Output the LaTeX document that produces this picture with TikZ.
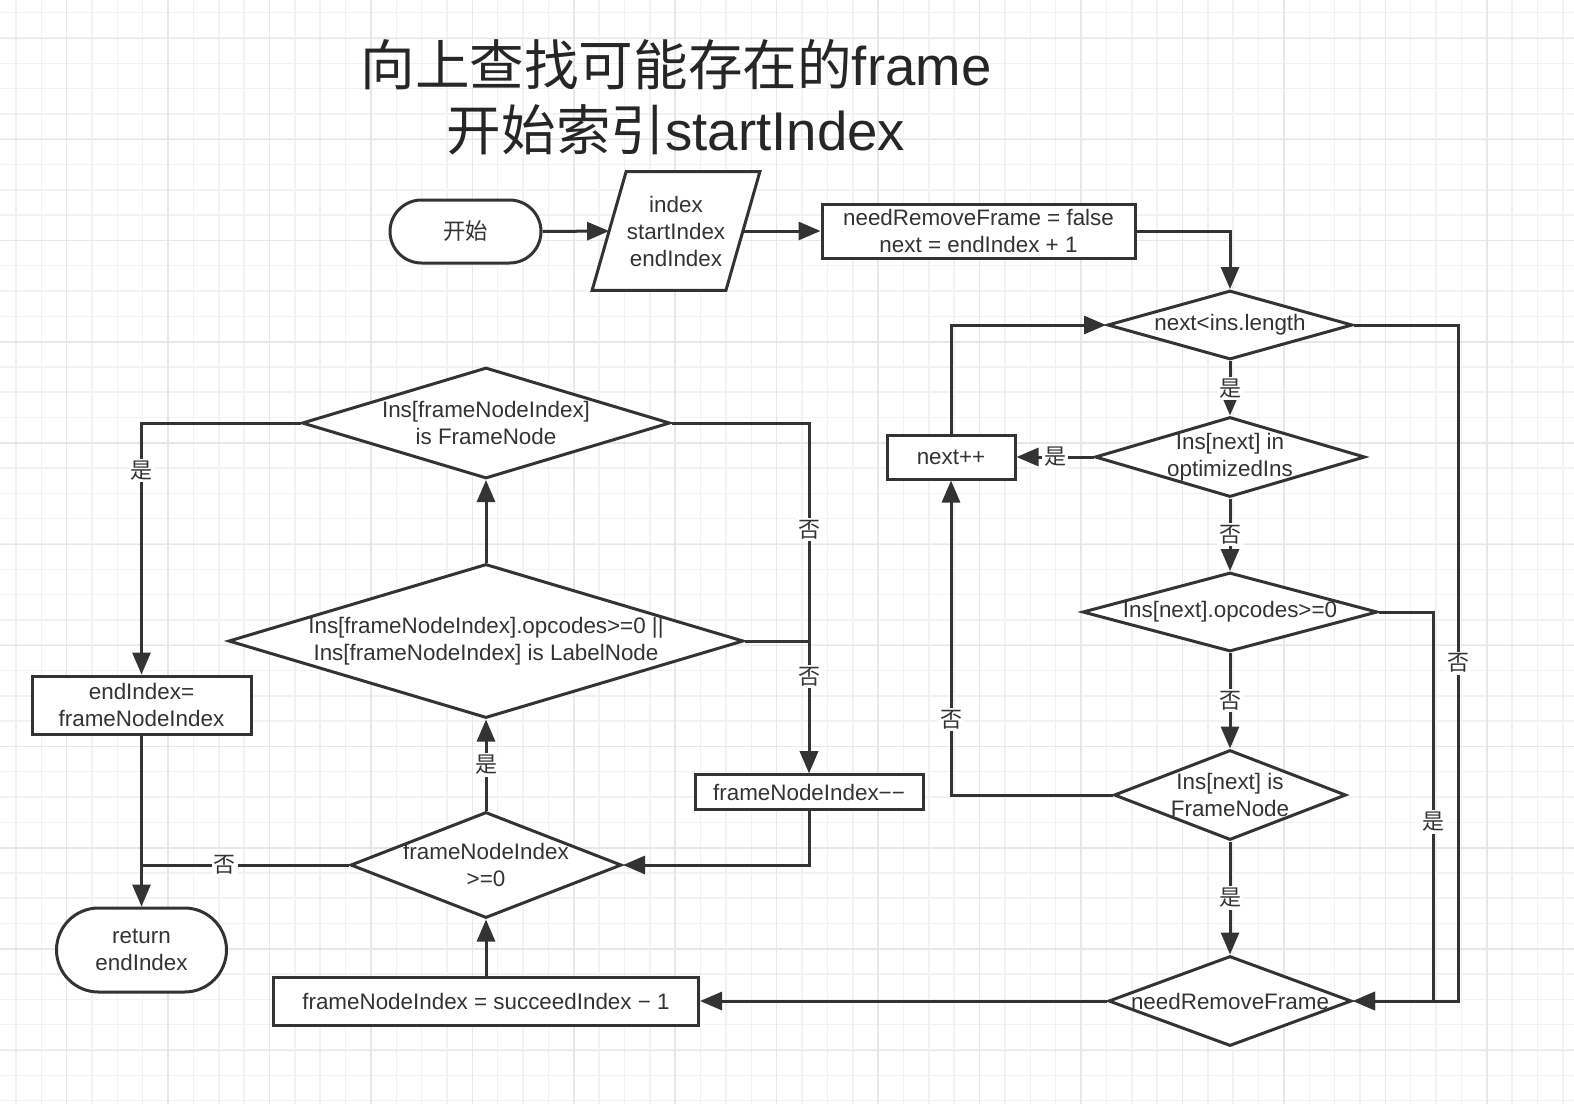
\documentclass[tikz,border=0pt]{standalone}
\usepackage{fontspec}
\setmainfont{Liberation Sans}
\newfontfamily\cjk{Noto Sans CJK SC}
\usetikzlibrary{shapes.geometric,shapes.misc,arrows.meta,calc}
\definecolor{ln}{HTML}{333333}
\definecolor{gminor}{HTML}{F2F2F2}
\definecolor{gmajor}{HTML}{E7E7E7}
\begin{document}
\begin{tikzpicture}[x=0.5pt,y=-0.5pt,
 every node/.style={font=\fontsize{11.2}{13.5}\selectfont, text=ln},
 box/.style={draw=ln, fill=white, line width=1.5pt, rectangle, align=center, inner sep=0pt},
 term/.style={draw=ln, fill=white, line width=1.5pt, rounded rectangle, align=center, inner sep=0pt},
 dia/.style={draw=ln, fill=white, line width=1.5pt, diamond, inner sep=0pt},
 txt/.style={align=center, inner sep=0pt},
 arr/.style={draw=ln, line width=1.5pt, -{Triangle[length=11pt,width=9pt]}},
 con/.style={draw=ln, line width=1.5pt},
 lab/.style={fill=white, font=\cjk\fontsize{11}{13}\selectfont, inner sep=1pt},
]
\useasboundingbox (0,0) rectangle (1574,1104);
\fill[white] (0,0) rectangle (1574,1104);
% grid
\foreach \k in {0,...,61} \draw[gminor, line width=0.75pt] ({15.9+25.36*\k},0) -- ++(0,1104);
\foreach \k in {0,...,43} \draw[gminor, line width=0.75pt] (0,{12.7+25.3*\k}) -- ++(1574,0);
\foreach \k in {0,...,15} \draw[gmajor, line width=0.75pt] ({66.6+101.44*\k},0) -- ++(0,1104);
\foreach \k in {0,...,10} \draw[gmajor, line width=0.75pt] (0,{38.3+101.2*\k}) -- ++(1574,0);

% title
\node[align=center, font=\fontsize{27.3}{32.5}\selectfont, text=black!85] (title) at (676,97)
  {{\cjk 向上查找可能存在的}frame\\{\cjk 开始索引}startIndex};

% top row
\node[term, minimum width=75.5pt, minimum height=31.5pt] (start) at (465.5,231.5) {\cjk 开始};
\node[minimum width=66.5pt, minimum height=59pt, inner sep=0pt] (par) at (676,231) {};
\filldraw[fill=white, draw=ln, line width=1.5pt] ($(par.north west)+(17,0)$) -- ($(par.north east)+(17,0)$)
  -- ($(par.south east)+(-17,0)$) -- ($(par.south west)+(-17,0)$) -- cycle;
\node[txt] (partext) at (par) {index\\startIndex\\endIndex};
\node[box, minimum width=156.5pt, minimum height=27pt] (init) at (978.5,231) {needRemoveFrame = false\\next = endIndex + 1};

% right column
\node[dia, minimum width=122.5pt, minimum height=34.5pt] (d1) at (1230,325) {};
\node[txt] (d1t) at (d1) {next<ins.length};
\node[dia, minimum width=135pt, minimum height=40pt] (d2) at (1230,457) {};
\node[txt] (d2t) at (d2) {Ins[next] in\\optimizedIns};
\node[dia, minimum width=147.5pt, minimum height=39.5pt] (d3) at (1230,612) {};
\node[txt] (d3t) at (d3) {Ins[next].opcodes>=0};
\node[dia, minimum width=116pt, minimum height=45pt] (d4) at (1230,795) {};
\node[txt] (d4t) at (d4) {Ins[next] is\\FrameNode};
\node[dia, minimum width=121.5pt, minimum height=45pt] (d5) at (1230,1001) {};
\node[txt] (d5t) at (d5) {needRemoveFrame};
\node[box, minimum width=64pt, minimum height=22pt] (nextpp) at (951,457) {next++};

% left part
\node[dia, minimum width=184pt, minimum height=55.5pt] (d8) at (486,423) {};
\node[txt] (d8t) at (d8) {Ins[frameNodeIndex]\\is FrameNode};
\node[dia, minimum width=257.5pt, minimum height=77pt] (d7) at (486,641) {};
\node[txt] (d7t) at (d7) {Ins[frameNodeIndex].opcodes>=0 ||\\Ins[frameNodeIndex] is LabelNode};
\node[dia, minimum width=135.5pt, minimum height=53pt] (d6) at (486,865) {};
\node[txt] (d6t) at (d6) {frameNodeIndex\\>=0};
\node[box, minimum width=212.5pt, minimum height=24pt] (succ) at (486,1001) {frameNodeIndex = succeedIndex − 1};
\node[box, minimum width=114pt, minimum height=17.5pt] (fmm) at (809,792) {frameNodeIndex−−};
\node[box, minimum width=109.5pt, minimum height=29pt] (endbox) at (141.5,705) {endIndex=\\frameNodeIndex};
\node[term, minimum width=85pt, minimum height=42pt] (ret) at (141.5,950) {return\\endIndex};

\coordinate (c3) at (1433,612);
\coordinate (c1) at (1458,325);

% connectors
\draw[arr] (start.east) -- (par.west);
\draw[arr] (par.east) -- (init.west);
\draw[arr] (init.east) -| (d1.north);
\draw[arr] (d1.south) -- node[lab]{是} (d2.north);
\draw[arr] (d2.west) -- node[lab]{是} (nextpp.east);
\draw[arr] (nextpp.north) |- (d1.west);
\draw[arr] (d2.south) -- node[lab]{否} (d3.north);
\draw[arr] (d3.south) -- node[lab]{否} (d4.north);
\draw[arr] (d4.south) -- node[lab]{是} (d5.north);
\draw[arr] (d4.west) -| node[lab, pos=0.62]{否} (nextpp.south);
\draw[arr] (d3.east) -- (c3) -- node[lab, pos=0.54]{是} (c3 |- d5.east) -- (d5.east);
\draw[arr] (d1.east) -- (c1) -- node[lab, pos=0.5]{否} (c1 |- d5.east) -- (d5.east);
\draw[arr] (d5.west) -- (succ.east);
\draw[arr] (succ.north) -- (d6.south);
\draw[arr] (d6.north) -- node[lab]{是} (d7.south);
\draw[arr] (d7.north) -- (d8.south);
\draw[arr] (d8.west) -| node[lab, pos=0.595]{是} (endbox.north);
\draw[arr] (d8.east) -| node[lab, pos=0.652]{否} (fmm.north);
\draw[arr] (d7.east) -| node[lab, pos=0.634]{否} (fmm.north);
\draw[arr] (fmm.south) |- (d6.east);
\draw[con] (d6.west) -- node[lab, pos=0.6]{否} (d6.west -| endbox.south);
\draw[arr] (endbox.south) -- (ret.north);
\end{tikzpicture}
\end{document}
